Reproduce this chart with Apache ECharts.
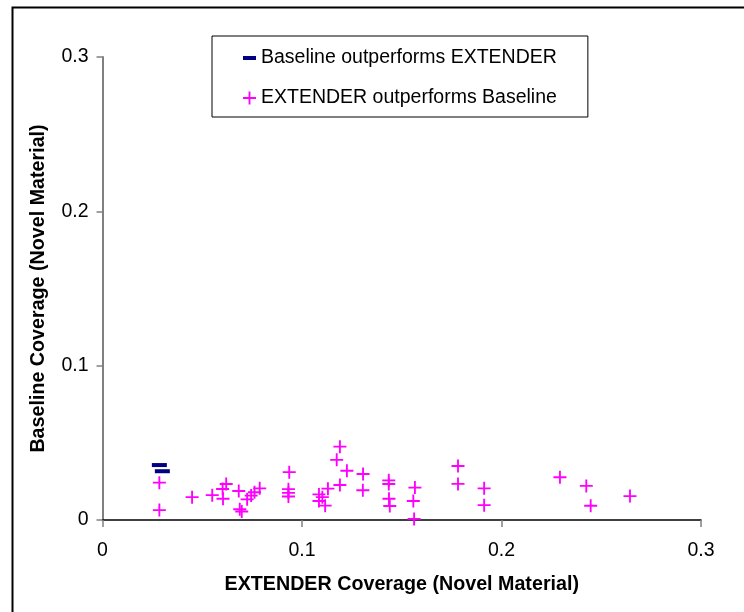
<!DOCTYPE html>
<html>
<head>
<meta charset="utf-8">
<script src="https://cdn.jsdelivr.net/npm/echarts@6/dist/echarts.min.js"></script>
<style>
html,body{margin:0;padding:0;background:#fff;}
#chart{width:744px;height:612px;}
</style>
</head>
<body>
<div id="chart"></div>
<script>
// ---- data ----
var seriesNames = ['Baseline outperforms EXTENDER', 'EXTENDER outperforms Baseline'];
var baselineX = [0.0285, 0.0300];
var baselineY = [0.0356, 0.0316];
var extenderX = [0.0285,0.0285,0.0449,0.0550,0.0602,0.0604,0.0620,0.0683,0.0688,0.0698,0.0725,0.0745,0.0762,0.0788,
  0.0936,0.0932,0.0932,0.0932,0.1085,0.1085,0.1102,0.1116,0.1130,0.1174,0.1190,0.1190,0.1225,0.1306,0.1305,
  0.1435,0.1435,0.1436,0.1440,0.1566,0.1558,0.1562,0.1782,0.1782,0.1913,0.1913,0.2293,0.2425,0.2447,0.2644];
var extenderY = [0.0242,0.0064,0.0148,0.0161,0.0201,0.0138,0.0233,0.0188,0.0070,0.0055,0.0134,0.0158,0.0180,0.0205,
  0.0310,0.0200,0.0176,0.0152,0.0166,0.0123,0.0148,0.0093,0.0203,0.0390,0.0475,0.0227,0.0319,0.0298,0.0193,
  0.0257,0.0233,0.0138,0.0091,0.0210,0.0123,0.0007,0.0350,0.0234,0.0205,0.0096,0.0277,0.0221,0.0092,0.0155];
var axisMin = 0, axisMax = 0.3, axisStep = 0.1;
var xTitle = 'EXTENDER Coverage (Novel Material)';
var yTitle = 'Baseline Coverage (Novel Material)';

function zip(xs, ys){ return xs.map(function(x,i){ return [x, ys[i]]; }); }

var FONT = 'Liberation Sans, Arial, sans-serif';
var plusPath = 'path://M-1,-7H1V-1H7V1H1V7H-1V1H-7V-1H-1Z';
var dashPath = 'path://M0,0H13V4H0Z';

var chart = echarts.init(document.getElementById('chart'), null, {renderer:'canvas'});
chart.setOption({
  animation: false,
  backgroundColor: '#fff',
  textStyle: {fontFamily: FONT},
  graphic: [{
    type: 'rect', left: 10, top: 5, silent: true,
    shape: {x: 0, y: 0, width: 800, height: 700},
    style: {fill: 'none', stroke: '#000', lineWidth: 2}
  }],
  grid: {left: 102.5, right: 43, top: 57, bottom: 92, containLabel: false},
  legend: {
    orient: 'vertical', left: 212, top: 36,
    padding: [12, 31, 9, 31],
    borderColor: '#000', borderWidth: 1, backgroundColor: '#fff',
    itemWidth: 13, itemHeight: 13, itemGap: 20,
    symbolKeepAspect: true,
    textStyle: {fontFamily: FONT, fontSize: 19.5, color: '#000', lineHeight: 20},
    data: [
      {name: seriesNames[0], icon: dashPath, itemStyle: {color: '#000080'}},
      {name: seriesNames[1], icon: plusPath, itemStyle: {color: '#FF00FF'}}
    ]
  },
  xAxis: {
    type: 'value', min: axisMin, max: axisMax, interval: axisStep,
    name: xTitle, nameLocation: 'middle', nameGap: 55,
    nameTextStyle: {fontFamily: FONT, fontSize: 19.7, fontWeight: 'bold', color: '#000'},
    axisLine: {show: true, onZero: false, lineStyle: {color: '#000', width: 1.5}},
    axisTick: {show: true, length: 7, lineStyle: {color: '#808080', width: 1.5}},
    axisLabel: {fontFamily: FONT, fontSize: 19.5, color: '#000', margin: 21,
      formatter: function(v){ return v === 0 ? '0' : String(+v.toFixed(1)); }},
    splitLine: {show: false}
  },
  yAxis: {
    type: 'value', min: axisMin, max: axisMax, interval: axisStep,
    name: yTitle, nameLocation: 'middle', nameGap: 54,
    nameTextStyle: {fontFamily: FONT, fontSize: 19.7, fontWeight: 'bold', color: '#000'},
    axisLine: {show: true, onZero: false, lineStyle: {color: '#808080', width: 2}},
    axisTick: {show: true, length: 6, lineStyle: {color: '#808080', width: 1.5}},
    axisLabel: {fontFamily: FONT, fontSize: 19.5, color: '#000', margin: 14,
      formatter: function(v){ return v === 0 ? '0' : String(+v.toFixed(1)); }},
    splitLine: {show: false}
  },
  series: [
    {
      name: seriesNames[0], type: 'scatter',
      symbol: 'rect', symbolSize: [15, 4],
      itemStyle: {color: '#000080', opacity: 1},
      data: zip(baselineX, baselineY), z: 3
    },
    {
      name: seriesNames[1], type: 'scatter',
      symbol: plusPath, symbolSize: 13,
      itemStyle: {color: '#FF00FF', opacity: 1},
      data: zip(extenderX, extenderY), z: 2
    }
  ]
});
</script>
</body>
</html>
